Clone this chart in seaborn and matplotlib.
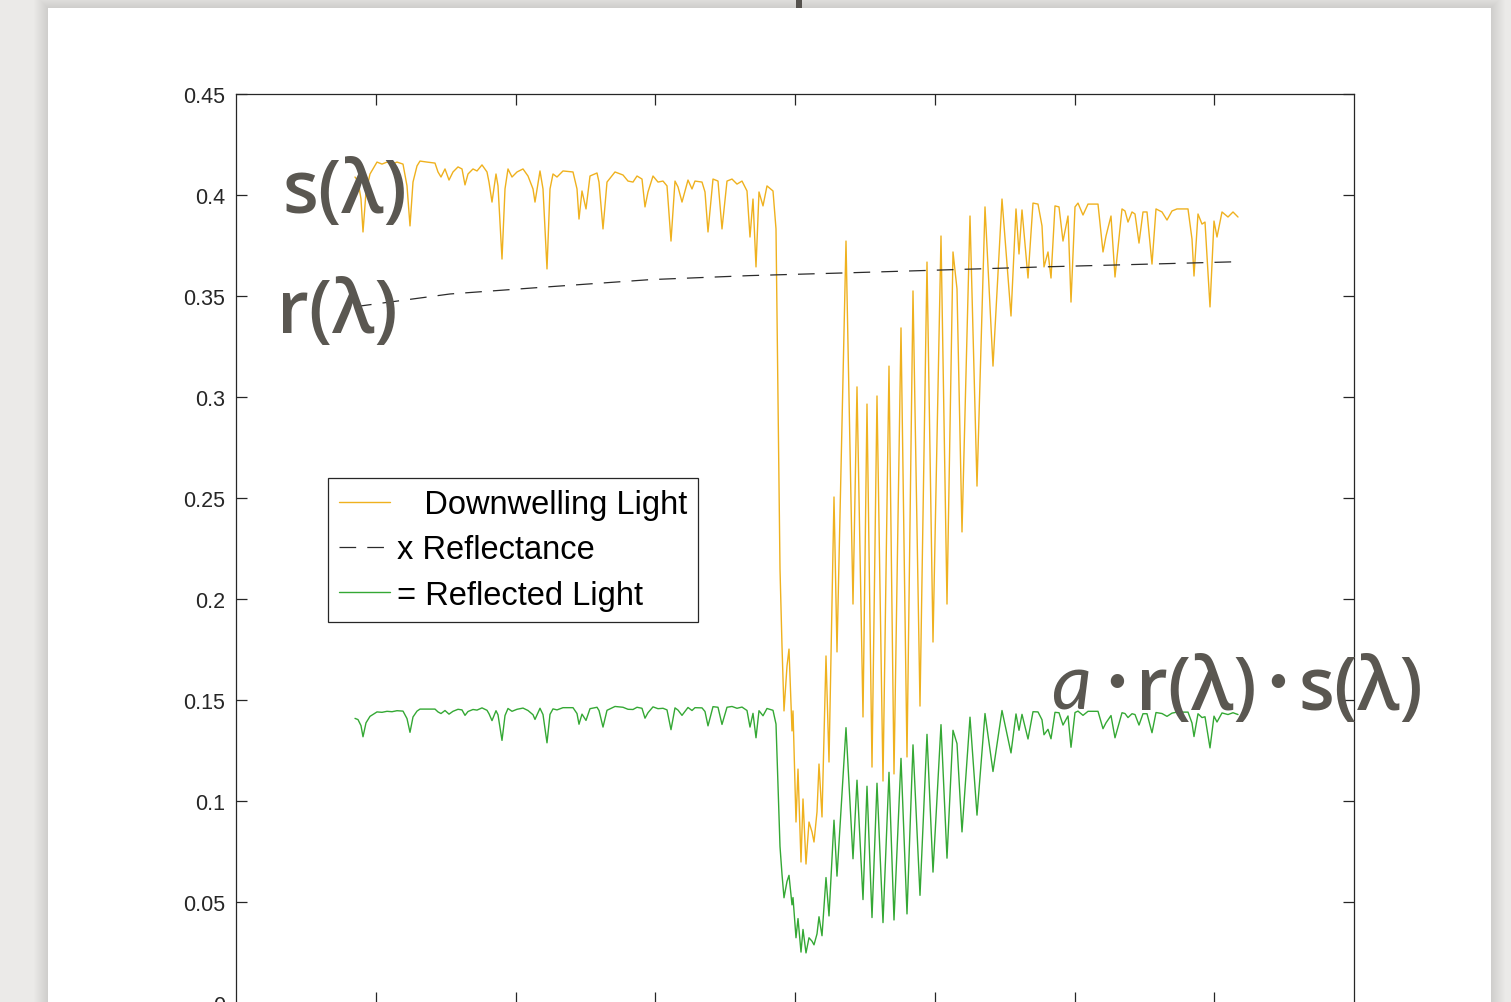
import matplotlib
matplotlib.use("Agg")
import matplotlib.pyplot as plt
import seaborn as sns
import pandas as pd
from matplotlib.patches import Rectangle

# ---------------- data ----------------
wavelength = [119, 122, 125, 127, 130, 134, 141, 146, 151, 156, 161, 167, 171, 174, 177, 181, 184, 191, 199, 202,
              205, 209, 213, 217, 222, 226, 229, 232, 237, 241, 246, 251, 253, 256, 260, 262, 266, 269, 272, 276,
              281, 287, 292, 297, 299, 304, 307, 311, 314, 317, 321, 327, 337, 341, 343, 346, 350, 354, 361, 363,
              367, 371, 379, 387, 392, 397, 401, 406, 409, 412, 417, 422, 427, 431, 435, 439, 442, 446, 452, 456,
              459, 466, 469, 472, 477, 482, 486, 491, 496, 501, 506, 511, 514, 517, 520, 523, 527, 531, 537, 540,
              542, 544, 546, 548, 551, 553, 556, 557, 560, 562, 565, 567, 570, 573, 576, 578, 581, 583, 586, 590,
              593, 598, 601, 610, 617, 621, 627, 631, 636, 641, 647, 653, 658, 665, 671, 677, 684, 691, 697, 705,
              711, 717, 721, 726, 734, 741, 749, 757, 766, 775, 780, 783, 786, 792, 797, 802, 806, 808, 812, 815,
              819, 823, 827, 832, 835, 839, 842, 847, 852, 862, 867, 870, 875, 879, 886, 889, 892, 896, 899, 903,
              907, 911, 916, 920, 926, 931, 936, 941, 952, 956, 958, 962, 966, 969, 971, 974, 978, 981, 986, 992,
              997, 1002]

downwelling = [0.4089, 0.4069, 0.3980, 0.3817, 0.4015, 0.4104, 0.4163, 0.4153, 0.4163, 0.4153, 0.4163, 0.4153,
               0.4045, 0.3847, 0.4064, 0.4144, 0.4168, 0.4163, 0.4158, 0.4114, 0.4089, 0.4129, 0.4074, 0.4114,
               0.4139, 0.4129, 0.4050, 0.4104, 0.4129, 0.4119, 0.4149, 0.4114, 0.4064, 0.3965, 0.4104, 0.4045,
               0.3683, 0.4030, 0.4129, 0.4089, 0.4114, 0.4129, 0.4094, 0.4030, 0.3965, 0.4119, 0.4030, 0.3634,
               0.4030, 0.4104, 0.4089, 0.4119, 0.4114, 0.4030, 0.3881, 0.4020, 0.3931, 0.4094, 0.4109, 0.4064,
               0.3832, 0.4064, 0.4114, 0.4099, 0.4069, 0.4064, 0.4094, 0.4079, 0.3941, 0.4015, 0.4094, 0.4064,
               0.4069, 0.4045, 0.3772, 0.4069, 0.4040, 0.3965, 0.4074, 0.4030, 0.4069, 0.4064, 0.4015, 0.3817,
               0.4079, 0.4069, 0.3832, 0.4069, 0.4079, 0.4054, 0.4069, 0.4020, 0.3792, 0.3980, 0.3644, 0.4015,
               0.3946, 0.4045, 0.4020, 0.3832, 0.2990, 0.2149, 0.1767, 0.1446, 0.1668, 0.1752, 0.1347, 0.1446,
               0.0896, 0.1158, 0.0698, 0.1010, 0.0688, 0.0896, 0.0847, 0.0797, 0.0946, 0.1183, 0.0921, 0.1718,
               0.1193, 0.2505, 0.1738, 0.3772, 0.1975, 0.3050, 0.1416, 0.2965, 0.1168, 0.3005, 0.1099, 0.3153,
               0.1134, 0.3342, 0.1218, 0.3525, 0.1470, 0.3668, 0.1787, 0.3797, 0.1975, 0.3718, 0.3535, 0.2332,
               0.3896, 0.2559, 0.3941, 0.3153, 0.3980, 0.3401, 0.3931, 0.3708, 0.3926, 0.3589, 0.3960, 0.3955,
               0.3847, 0.3644, 0.3718, 0.3589, 0.3946, 0.3941, 0.3772, 0.3896, 0.3470, 0.3941, 0.3960, 0.3901,
               0.3955, 0.3955, 0.3718, 0.3797, 0.3896, 0.3594, 0.3931, 0.3921, 0.3866, 0.3916, 0.3906, 0.3762,
               0.3916, 0.3916, 0.3658, 0.3931, 0.3916, 0.3876, 0.3921, 0.3931, 0.3931, 0.3782, 0.3599, 0.3906,
               0.3856, 0.3866, 0.3698, 0.3446, 0.3871, 0.3792, 0.3916, 0.3891, 0.3916, 0.3891]

reflected = [0.1409, 0.1403, 0.1373, 0.1318, 0.1387, 0.1419, 0.1441, 0.1439, 0.1444, 0.1442, 0.1447, 0.1445,
             0.1408, 0.1340, 0.1416, 0.1445, 0.1455, 0.1455, 0.1455, 0.1441, 0.1433, 0.1448, 0.1430, 0.1444,
             0.1454, 0.1451, 0.1424, 0.1443, 0.1453, 0.1450, 0.1461, 0.1449, 0.1432, 0.1398, 0.1447, 0.1427,
             0.1300, 0.1423, 0.1458, 0.1444, 0.1454, 0.1460, 0.1448, 0.1427, 0.1404, 0.1459, 0.1428, 0.1288,
             0.1429, 0.1456, 0.1451, 0.1462, 0.1462, 0.1433, 0.1380, 0.1430, 0.1399, 0.1457, 0.1464, 0.1448,
             0.1366, 0.1449, 0.1468, 0.1464, 0.1454, 0.1453, 0.1464, 0.1459, 0.1410, 0.1437, 0.1466, 0.1457,
             0.1459, 0.1451, 0.1353, 0.1461, 0.1450, 0.1424, 0.1463, 0.1448, 0.1462, 0.1461, 0.1443, 0.1372,
             0.1467, 0.1464, 0.1379, 0.1464, 0.1468, 0.1459, 0.1465, 0.1448, 0.1366, 0.1434, 0.1313, 0.1447,
             0.1422, 0.1458, 0.1449, 0.1381, 0.1078, 0.0775, 0.0637, 0.0521, 0.0602, 0.0632, 0.0486, 0.0522,
             0.0323, 0.0418, 0.0252, 0.0364, 0.0248, 0.0323, 0.0306, 0.0288, 0.0342, 0.0427, 0.0333, 0.0621,
             0.0431, 0.0905, 0.0628, 0.1363, 0.0714, 0.1103, 0.0512, 0.1073, 0.0423, 0.1088, 0.0398, 0.1142,
             0.0411, 0.1211, 0.0441, 0.1278, 0.0533, 0.1330, 0.0648, 0.1378, 0.0717, 0.1350, 0.1284, 0.0847,
             0.1415, 0.0930, 0.1433, 0.1146, 0.1448, 0.1238, 0.1431, 0.1350, 0.1429, 0.1307, 0.1442, 0.1441,
             0.1402, 0.1328, 0.1355, 0.1308, 0.1439, 0.1437, 0.1376, 0.1421, 0.1266, 0.1438, 0.1445, 0.1424,
             0.1444, 0.1444, 0.1358, 0.1387, 0.1423, 0.1313, 0.1437, 0.1433, 0.1413, 0.1432, 0.1428, 0.1376,
             0.1432, 0.1432, 0.1338, 0.1438, 0.1433, 0.1419, 0.1435, 0.1440, 0.1440, 0.1386, 0.1319, 0.1432,
             0.1413, 0.1417, 0.1356, 0.1263, 0.1420, 0.1391, 0.1436, 0.1428, 0.1437, 0.1428]

refl_wavelength = [119, 214, 314, 414, 514, 614, 714, 814, 914, 1004]
reflectance = [0.3447, 0.3510, 0.3546, 0.3581, 0.3601, 0.3615, 0.3630, 0.3645, 0.3658, 0.3670]

x_ticks = [0, 139.75, 279.5, 419.25, 559, 698.75, 838.5, 978.25, 1118]
y_ticks = [0, 0.05, 0.1, 0.15, 0.2, 0.25, 0.3, 0.35, 0.4, 0.45]
y_tick_labels = ["0", "0.05", "0.1", "0.15", "0.2", "0.25", "0.3", "0.35", "0.4", "0.45"]
legend_labels = ["   Downwelling Light", "x Reflectance", "= Reflected Light"]

# ---------------- styling ----------------
sns.set_theme(style="white")
plt.rcParams['font.family'] = ['Liberation Sans', 'DejaVu Sans']
plt.rcParams['lines.scale_dashes'] = False

W, H = 1511, 1003
fig = plt.figure(figsize=(W / 100, H / 100), dpi=100, facecolor='#ebeae8')

def fx(px):
    return px / W

def fy(py):
    return 1 - py / H

# card shadow + white card
for k in range(1, 15):
    fig.patches.append(Rectangle((fx(48 - k), fy(H + 5)), (1491 - 48 + 2 * k) / W, (H + 5 - 9 + k) / H,
                                 transform=fig.transFigure, facecolor='black', alpha=0.008,
                                 edgecolor='none', zorder=-3))
fig.patches.append(Rectangle((fx(48), 0), (1491 - 48) / W, (H - 9) / H, transform=fig.transFigure,
                             facecolor='white', edgecolor='none', zorder=-2))
# fragment of something above the card
fig.patches.append(Rectangle((fx(796), fy(9)), 6 / W, 9 / H, transform=fig.transFigure,
                             facecolor='#55524e', edgecolor='none', zorder=-1))

ax = fig.add_axes([fx(236), fy(1004), (1354 - 236) / W, (1004 - 95) / H])
ax.patch.set_alpha(0)

df_s = pd.DataFrame({"wavelength": wavelength, "value": downwelling})
df_g = pd.DataFrame({"wavelength": wavelength, "value": reflected})
df_r = pd.DataFrame({"wavelength": refl_wavelength, "value": reflectance})

sns.lineplot(data=df_s, x="wavelength", y="value", ax=ax, color='#EFB11E', lw=1.0,
             label=legend_labels[0], errorbar=None)
sns.lineplot(data=df_r, x="wavelength", y="value", ax=ax, color='#2b2b2b', lw=0.9,
             linestyle=(0, (12, 8)), label=legend_labels[1], errorbar=None)
sns.lineplot(data=df_g, x="wavelength", y="value", ax=ax, color='#34a834', lw=1.0,
             label=legend_labels[2], errorbar=None)

ax.set_xlim(0, 1118)
ax.set_ylim(0, 0.45)
ax.set_xticks(x_ticks[1:-1])
ax.set_xticklabels([])
ax.set_yticks(y_ticks)
ax.set_yticklabels(y_tick_labels)
ax.set_xlabel("")
ax.set_ylabel("")
for sp in ax.spines.values():
    sp.set_visible(True)
    sp.set_color('#262626')
    sp.set_linewidth(0.9)
ax.tick_params(direction='in', length=8, width=0.9, color='#262626', top=True, right=True,
               labelsize=15.5, labelcolor='#262626', pad=8, left=True, bottom=True)

leg = ax.legend(loc='upper left', bbox_to_anchor=(fx(328), fy(479)), bbox_transform=fig.transFigure,
                borderaxespad=0, fontsize=23.5, handlelength=1.55, handletextpad=0.22,
                borderpad=0.34, labelspacing=0.44, fancybox=False, framealpha=1,
                edgecolor='#262626', facecolor='white')
leg.get_frame().set_linewidth(0.9)
for t in leg.get_texts():
    t.set_color('black')

# ---------------- big annotation labels ----------------
big = dict(family=['Open Sans', 'DejaVu Sans'], fontsize=53, weight='semibold', color='#5a5751',
           va='baseline', ha='left', zorder=10)
fig.text(fx(282), fy(213), "s(λ)", **big)
fig.text(fx(277), fy(333), "r(λ)", **big)
fig.text(fx(1051), fy(710), "a", family=['Lato', 'DejaVu Sans'], style='italic', fontsize=56,
         color='#5a5751', va='baseline', ha='left', zorder=10)
fig.text(fx(1136), fy(710), "r(λ)", **big)
fig.text(fx(1299), fy(710), "s(λ)", **big)
dot = dict(family=['Lato', 'DejaVu Sans'], fontsize=26, color='#5a5751', va='baseline', ha='center', zorder=10)
fig.text(fx(1117), fy(692), "•", **dot)
fig.text(fx(1278), fy(692), "•", **dot)

fig.savefig("out.png", dpi=100, facecolor=fig.get_facecolor())
